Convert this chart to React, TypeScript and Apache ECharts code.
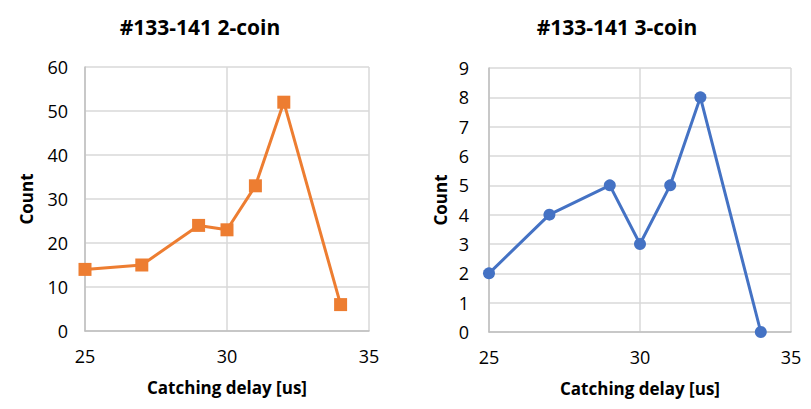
import React, { useEffect, useRef } from "react";
import * as echarts from "echarts";

const delays = [25, 27, 29, 30, 31, 32, 34];
const counts2coin = [14, 15, 24, 23, 33, 52, 6];
const counts3coin = [2, 4, 5, 3, 5, 8, 0];
const title2 = "#133-141 2-coin";
const title3 = "#133-141 3-coin";
const xName = "Catching delay [us]";
const yName = "Count";

const FONT = "Open Sans";

export default function App() {
  const ref = useRef<HTMLDivElement>(null);
  useEffect(() => {
    if (!ref.current) return;
    const chart = echarts.init(ref.current, undefined, { renderer: "svg" });
    const axisLine = { show: true, lineStyle: { color: "#BFBFBF", width: 1.5 } };
    const split = { show: true, lineStyle: { color: "#D9D9D9", width: 1.5 } };
    const lbl = { color: "#000", fontFamily: FONT, fontSize: 18 };
    const nameStyle = { color: "#000", fontFamily: FONT, fontSize: 17, fontWeight: "bold" as const };
    const titleStyle = { fontFamily: FONT, fontSize: 21, fontWeight: "bold" as const, color: "#000" };
    const mkX = (gridIndex: number) => ({
      type: "value" as const,
      gridIndex,
      min: 25,
      max: 35,
      interval: 5,
      axisLine,
      axisTick: { show: false },
      splitLine: split,
      axisLabel: { ...lbl, margin: 16 },
      name: xName,
      nameLocation: "middle" as const,
      nameGap: 48,
      nameTextStyle: nameStyle,
    });
    chart.setOption({
      animation: false,
      backgroundColor: "#fff",
      title: [
        { text: title2, left: 195, top: 11, textAlign: "center", textStyle: titleStyle },
        { text: title3, left: 612, top: 11, textAlign: "center", textStyle: titleStyle },
      ],
      grid: [
        { left: 85, top: 67, width: 284, height: 264 },
        { left: 489, top: 68, width: 302, height: 264 },
      ],
      xAxis: [mkX(0), mkX(1)],
      yAxis: [
        {
          type: "value",
          gridIndex: 0,
          min: 0,
          max: 60,
          interval: 10,
          axisLine,
          axisTick: { show: false },
          splitLine: split,
          axisLabel: { ...lbl, margin: 17 },
          name: yName,
          nameLocation: "middle",
          nameGap: 50,
          nameTextStyle: nameStyle,
        },
        {
          type: "value",
          gridIndex: 1,
          min: 0,
          max: 9,
          interval: 1,
          axisLine,
          axisTick: { show: false },
          splitLine: split,
          axisLabel: { ...lbl, margin: 20 },
          name: yName,
          nameLocation: "middle",
          nameGap: 40,
          nameTextStyle: nameStyle,
        },
      ],
      series: [
        {
          type: "line",
          xAxisIndex: 0,
          yAxisIndex: 0,
          data: delays.map((d, i) => [d, counts2coin[i]]),
          symbol: "rect",
          symbolSize: 13,
          lineStyle: { color: "#ED7D31", width: 3 },
          itemStyle: { color: "#ED7D31" },
          clip: false,
        },
        {
          type: "line",
          xAxisIndex: 1,
          yAxisIndex: 1,
          data: delays.map((d, i) => [d, counts3coin[i]]),
          symbol: "circle",
          symbolSize: 12,
          lineStyle: { color: "#4472C4", width: 3 },
          itemStyle: { color: "#4472C4" },
          clip: false,
        },
      ],
    });
    return () => chart.dispose();
  }, []);
  return <div ref={ref} style={{ width: 811, height: 409, position: "absolute", left: 0, top: 0 }} />;
}
